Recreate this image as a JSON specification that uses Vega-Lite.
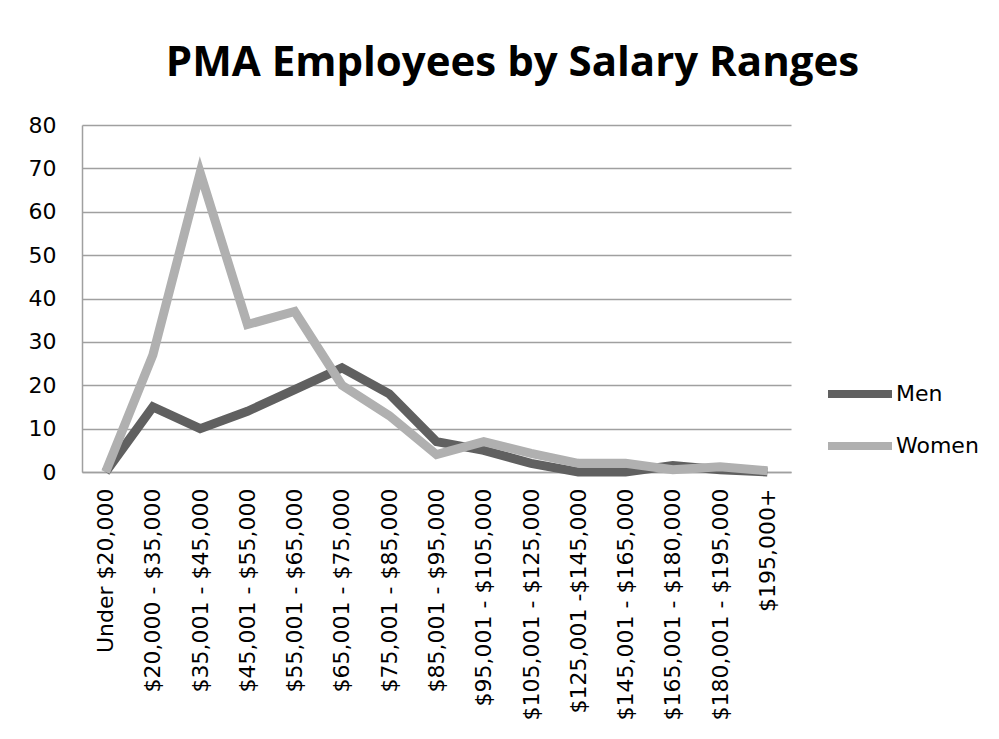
{
  "$schema": "https://vega.github.io/schema/vega-lite/v6.json",
  "autosize": {"type": "none"},
  "padding": {"left": 82, "top": 125, "right": 208, "bottom": 267},
  "width": 709,
  "height": 347,
  "background": "white",
  "title": {
    "text": "PMA Employees by Salary Ranges",
    "font": "Open Sans",
    "fontSize": 42,
    "fontWeight": "bold",
    "color": "#000000",
    "anchor": "middle",
    "dx": 76,
    "offset": 29
  },
  "data": {
    "values": [
      {"range": "Under $20,000", "series": "Men", "count": 0},
      {"range": "$20,000 - $35,000", "series": "Men", "count": 15},
      {"range": "$35,001 - $45,000", "series": "Men", "count": 10},
      {"range": "$45,001 - $55,000", "series": "Men", "count": 14},
      {"range": "$55,001 - $65,000", "series": "Men", "count": 19},
      {"range": "$65,001 - $75,000", "series": "Men", "count": 24},
      {"range": "$75,001 - $85,000", "series": "Men", "count": 18},
      {"range": "$85,001 - $95,000", "series": "Men", "count": 7},
      {"range": "$95,001 - $105,000", "series": "Men", "count": 5},
      {"range": "$105,001 - $125,000", "series": "Men", "count": 2},
      {"range": "$125,001 -$145,000", "series": "Men", "count": 0},
      {"range": "$145,001 - $165,000", "series": "Men", "count": 0},
      {"range": "$165,001 - $180,000", "series": "Men", "count": 1.5},
      {"range": "$180,001 - $195,000", "series": "Men", "count": 0.5},
      {"range": "$195,000+", "series": "Men", "count": 0},
      {"range": "Under $20,000", "series": "Women", "count": 0},
      {"range": "$20,000 - $35,000", "series": "Women", "count": 27},
      {"range": "$35,001 - $45,000", "series": "Women", "count": 69},
      {"range": "$45,001 - $55,000", "series": "Women", "count": 34},
      {"range": "$55,001 - $65,000", "series": "Women", "count": 37},
      {"range": "$65,001 - $75,000", "series": "Women", "count": 20},
      {"range": "$75,001 - $85,000", "series": "Women", "count": 13},
      {"range": "$85,001 - $95,000", "series": "Women", "count": 4},
      {"range": "$95,001 - $105,000", "series": "Women", "count": 7},
      {"range": "$105,001 - $125,000", "series": "Women", "count": 4.3},
      {"range": "$125,001 -$145,000", "series": "Women", "count": 2},
      {"range": "$145,001 - $165,000", "series": "Women", "count": 2},
      {"range": "$165,001 - $180,000", "series": "Women", "count": 0.5},
      {"range": "$180,001 - $195,000", "series": "Women", "count": 1.2},
      {"range": "$195,000+", "series": "Women", "count": 0.3}
    ]
  },
  "mark": {"type": "line", "strokeWidth": 9, "strokeJoin": "miter", "strokeCap": "butt"},
  "encoding": {
    "x": {
      "field": "range",
      "type": "ordinal",
      "sort": null,
      "scale": {"type": "point", "padding": 0.5},
      "axis": {
        "title": null,
        "labelAngle": -90,
        "labelAlign": "right",
        "labelBaseline": "middle",
        "labelFont": "DejaVu Sans",
        "labelFontSize": 22,
        "labelColor": "#000000",
        "labelPadding": 16,
        "labelLimit": 0,
        "ticks": false,
        "domainColor": "#a0a0a0",
        "domainWidth": 1.5,
        "grid": false,
        "labelOverlap": false
      }
    },
    "y": {
      "field": "count",
      "type": "quantitative",
      "scale": {"domain": [0, 80], "nice": false},
      "axis": {
        "title": null,
        "values": [0, 10, 20, 30, 40, 50, 60, 70, 80],
        "labelFont": "DejaVu Sans",
        "labelFontSize": 22,
        "labelColor": "#000000",
        "labelPadding": 26,
        "ticks": false,
        "domainColor": "#a0a0a0",
        "domainWidth": 1.5,
        "grid": true,
        "gridColor": "#a0a0a0",
        "gridWidth": 1.5
      }
    },
    "color": {
      "field": "series",
      "type": "nominal",
      "scale": {"domain": ["Men", "Women"], "range": ["#606060", "#b0b0b0"]},
      "legend": {
        "title": null,
        "orient": "none",
        "legendX": 742,
        "legendY": 233,
        "symbolType": "stroke",
        "symbolSize": 4096,
        "symbolStrokeWidth": 8,
        "labelFont": "DejaVu Sans",
        "labelFontSize": 22,
        "labelColor": "#000000",
        "labelOffset": 0,
        "rowPadding": -20
      }
    }
  },
  "config": {
    "view": {"stroke": null}
  }
}
